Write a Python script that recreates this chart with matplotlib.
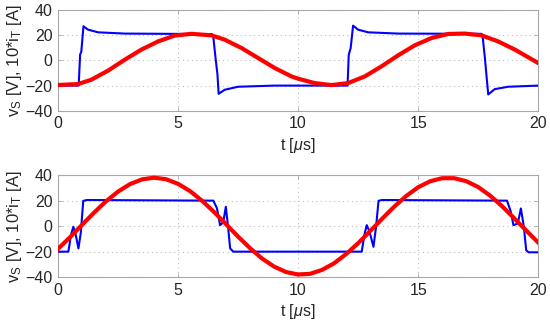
import matplotlib
matplotlib.use('Agg')
import matplotlib.pyplot as plt

plt.rcParams['font.family'] = ['Liberation Sans', 'DejaVu Sans']
plt.rcParams['mathtext.fontset'] = 'custom'
plt.rcParams['mathtext.rm'] = 'Liberation Sans'
plt.rcParams['mathtext.it'] = 'Liberation Sans:italic'

# Top panel: switch-node voltage (blue) and scaled transformer current (red)
top_t_blue = [0, 0.86, 0.92, 0.97, 1.06, 1.25, 1.67, 2.78, 6.39, 6.46, 6.56, 6.64, 6.69, 6.94, 7.5, 9.0,
              12.06, 12.11, 12.19, 12.29, 12.5, 12.92, 14.17, 17.64, 17.68, 17.78, 17.85, 17.92, 18.19, 18.75, 20]
top_v_blue = [-20, -20, 4.5, 7, 27, 24.3, 22.2, 21.2, 20.8, 20, 2, -11, -26.5, -23.3, -20.9, -20,
              -20, 4.5, 9.8, 27.5, 24.3, 22.2, 21.2, 21, 20, 2, -12.7, -27, -22.8, -20.9, -20]
top_t_red = [0, 0.83, 1.39, 2.08, 2.78, 3.47, 4.17, 4.86, 5.56, 6.39, 6.94, 7.64, 8.33, 9.03, 9.72, 10.0,
             10.69, 11.39, 12.08, 12.78, 13.47, 14.17, 14.86, 15.56, 16.25, 16.94, 17.64, 18.33, 19.03, 20]
top_v_red = [-19.5, -18.8, -15.3, -8.2, 0.5, 8.5, 15, 19.6, 21.0, 19.8, 16.4, 9.8, 1.9, -6.1, -12.7, -14.5,
             -18, -19.6, -18, -12.7, -4.8, 4, 11.9, 17.7, 20.9, 21.2, 19.8, 15, 8.5, -2.1]

# Bottom panel
bot_t_blue = [0, 0.43, 0.55, 0.64, 0.73, 0.85, 0.95, 1.05, 1.2, 6.47, 6.62, 6.75, 6.88, 6.99, 7.08, 7.17, 7.3,
              12.65, 12.77, 12.86, 12.97, 13.14, 13.25, 13.35, 13.5, 18.7, 18.85, 18.97, 19.15, 19.28, 19.4, 19.5, 19.6, 20]
bot_v_blue = [-20, -20, -6, -0.5, -6, -17.5, -5, 19.8, 20.5, 20, 14, 0.8, 3, 15.2, 0, -17.5, -20,
              -20, -6, 0.8, -4, -16.2, 0, 19.9, 20.5, 20, 12, 0.8, 2, 13.9, 0, -18.8, -20.5, -20.5]
bot_t_red = [0, 0.5, 1.0, 1.5, 2.0, 2.5, 3.0, 3.5, 4.0, 4.5, 5.0, 5.5, 6.0, 6.5, 7.0, 7.5, 8.0, 8.5, 9.0, 9.5,
             10.0, 10.5, 11.0, 11.5, 12.0, 12.5, 13.0, 13.5, 14.0, 14.5, 15.0, 15.5, 16.0, 16.5, 17.0, 17.5,
             18.0, 18.5, 19.0, 19.5, 20.0]
bot_v_red = [-17.8, -8.7, 1.0, 10.6, 19.5, 27.1, 33.0, 36.7, 38.0, 36.8, 33.2, 27.5, 19.9, 11.1, 1.5, -8.2,
             -17.3, -25.4, -31.7, -36.0, -37.9, -37.4, -34.3, -29.1, -21.9, -13.4, -3.9, 5.8, 15.2, 23.6, 30.5,
             35.2, 37.6, 37.6, 35.3, 30.7, 23.9, 15.6, 6.2, -3.4, -12.8]

fig = plt.figure(figsize=(5.5, 3.28), dpi=100)
ax1 = fig.add_axes([0.1055, 0.662, 0.873, 0.308])
ax2 = fig.add_axes([0.1055, 0.155, 0.873, 0.311])

panels = [(ax1, top_t_blue, top_v_blue, top_t_red, top_v_red),
          (ax2, bot_t_blue, bot_v_blue, bot_t_red, bot_v_red)]

for ax, tb, vb, tr, vr in panels:
    ax.plot(tb, vb, color='#0000ff', lw=1.5, zorder=3)
    ax.plot(tr, vr, color='#ff0000', lw=3.0, zorder=4)
    ax.set_xlim(0, 20)
    ax.set_ylim(-40, 40)
    ax.set_xticks([0, 5, 10, 15, 20])
    ax.set_yticks([-40, -20, 0, 20, 40])
    ax.grid(True, linestyle=(0, (1, 3)), color='#c0c0c0', linewidth=0.8)
    for s in ax.spines.values():
        s.set_color('#a8a8a8')
        s.set_linewidth(0.8)
    ax.tick_params(direction='in', length=3, width=0.6, color='#a8a8a8',
                   labelcolor='#262626', labelsize=11.5, top=True, right=True, pad=4)
    ax.set_xlabel(r't [$\mu$s]', fontsize=11.5, color='#262626', labelpad=3)
    ax.set_ylabel(r'v$_\mathregular{S}$ [V], 10*i$_\mathregular{T}$ [A]', fontsize=12,
                  color='#262626', labelpad=1)

fig.savefig('out.png', dpi=100)
